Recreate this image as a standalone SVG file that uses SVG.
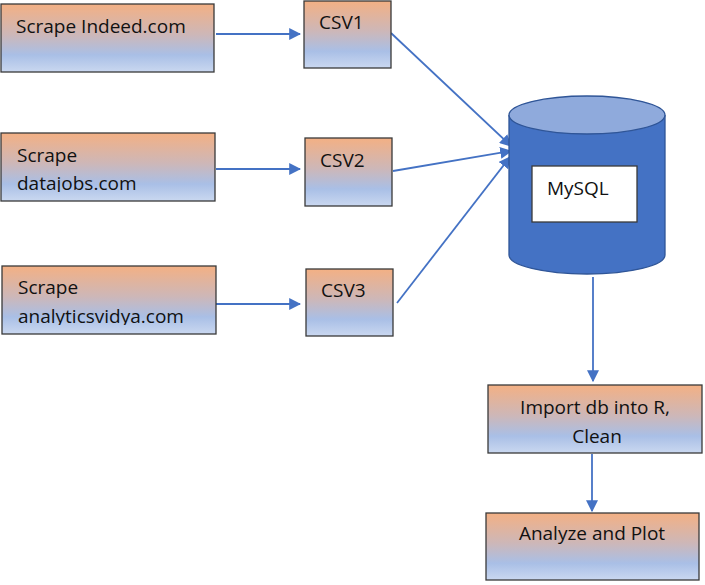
<svg xmlns="http://www.w3.org/2000/svg" width="705" height="585" viewBox="0 0 705 585">
<style>
.box{stroke:#3a3a3a;stroke-width:1.3;fill:url(#g)}
.t{font-family:"Open Sans","Liberation Sans",sans-serif;font-size:19px;fill:#111}
.c{stroke:#4472C4;stroke-width:1.8;fill:none}
</style>
<defs>
<linearGradient id="g" x1="0" y1="0" x2="0" y2="1">
<stop offset="0" stop-color="#F3B084"/>
<stop offset="0.45" stop-color="#CDB7B8"/>
<stop offset="0.75" stop-color="#A9BFE6"/>
<stop offset="1" stop-color="#CAD8F0"/>
</linearGradient>
<marker id="b" viewBox="0 0 10 10" refX="9" refY="5" markerWidth="12" markerHeight="12" markerUnits="userSpaceOnUse" orient="auto">
<path d="M0,0 L10,5 L0,10 z" fill="#4472C4"/>
</marker>
<clipPath id="k2"><rect x="1" y="133" width="214" height="59"/></clipPath>
<clipPath id="k3"><rect x="2" y="266" width="214" height="59"/></clipPath>
</defs>

<g id="connectors">
<line class="c" x1="216" y1="34" x2="300" y2="34" marker-end="url(#b)"/>
<line class="c" x1="216" y1="169" x2="300" y2="169" marker-end="url(#b)"/>
<line class="c" x1="216" y1="304" x2="300" y2="304" marker-end="url(#b)"/>
<line class="c" x1="391" y1="33" x2="511" y2="146" marker-end="url(#b)"/>
<line class="c" x1="393" y1="171" x2="511" y2="151" marker-end="url(#b)"/>
<line class="c" x1="397" y1="303" x2="510" y2="157" marker-end="url(#b)"/>
<line class="c" x1="593" y1="277" x2="593" y2="381" marker-end="url(#b)"/>
<line class="c" x1="592" y1="454" x2="592" y2="511" marker-end="url(#b)"/>
</g>

<g id="scrape-indeed">
<rect class="box" x="1" y="4" width="213" height="68"/>
<text class="t" x="16" y="33">Scrape Indeed.com</text>
</g>
<g id="scrape-datajobs">
<rect class="box" x="1" y="133" width="214" height="68"/>
<g clip-path="url(#k2)">
<text class="t" x="17" y="162">Scrape</text>
<text class="t" x="17" y="190">datajobs.com</text>
</g>
</g>
<g id="scrape-analyticsvidya">
<rect class="box" x="2" y="266" width="214" height="68"/>
<g clip-path="url(#k3)">
<text class="t" x="18" y="294">Scrape</text>
<text class="t" x="18" y="323">analyticsvidya.com</text>
</g>
</g>

<g id="csv1">
<rect class="box" x="304" y="1" width="87" height="67"/>
<text class="t" x="319" y="29">CSV1</text>
</g>
<g id="csv2">
<rect class="box" x="305" y="138" width="87" height="68"/>
<text class="t" x="320" y="167">CSV2</text>
</g>
<g id="csv3">
<rect class="box" x="306" y="269" width="87" height="67"/>
<text class="t" x="321" y="297">CSV3</text>
</g>

<g id="mysql">
<path d="M509,115 L509,255 A78,19 0 0 0 665,255 L665,115" fill="#4472C4" stroke="#2F5597" stroke-width="1.3"/>
<ellipse cx="587" cy="115" rx="78" ry="19" fill="#8FAADC" stroke="#2F5597" stroke-width="1.3"/>
<rect x="532" y="166" width="105" height="56" fill="#FFFFFF" stroke="#3a3a3a" stroke-width="1.3"/>
<text class="t" x="547" y="195">MySQL</text>
</g>

<g id="import">
<rect class="box" x="488" y="385" width="214" height="68"/>
<text class="t" x="595" y="414" text-anchor="middle">Import db into R,</text>
<text class="t" x="597" y="443" text-anchor="middle">Clean</text>
</g>
<g id="analyze">
<rect class="box" x="486" y="513" width="213" height="67"/>
<text class="t" x="592" y="540" text-anchor="middle">Analyze and Plot</text>
</g>
</svg>
